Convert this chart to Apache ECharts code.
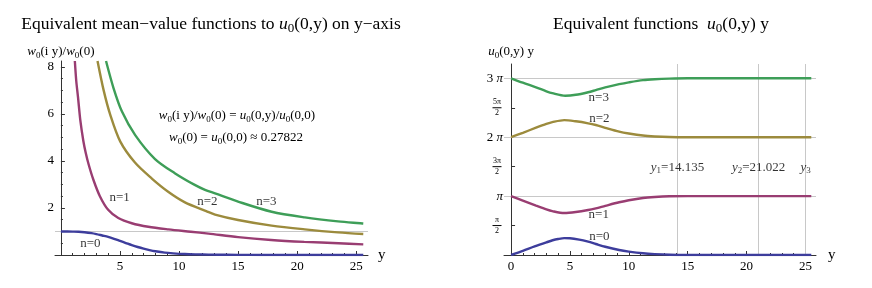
<!DOCTYPE html>
<html><head><meta charset="utf-8">
<script src="https://cdn.jsdelivr.net/npm/echarts@6/dist/echarts.min.js"></script>
<style>html,body{margin:0;padding:0;background:#fff}#c{width:872px;height:288px}</style>
</head><body><div id="c"></div>
<script>
// ---------- data: left chart  w0(i y)/w0(0) ----------
const leftN0 = [[0,1.0],[1,0.995],[1.5,0.99],[2,0.97],[2.6,0.93],[3,0.89],[3.5,0.83],[4,0.77],[4.5,0.69],[5,0.6],[5.5,0.51],[6,0.42],[6.5,0.34],[7,0.27],[7.5,0.21],[8,0.16],[8.8,0.1],[9.5,0.07],[10.5,0.04],[11.5,0.025],[12.5,0.015],[14,0.008],[16,0.004],[18,0.002],[20,0.001],[25.6,0]];
const leftN1 = [[1.18,8.25],[1.3,7.4],[1.45,6.7],[1.65,5.7],[1.9,4.85],[2.1,4.35],[2.35,3.85],[2.75,3.2],[3.3,2.5],[4.0,1.92],[4.86,1.57],[6,1.35],[7.4,1.2],[9.1,1.09],[11,0.99],[12.5,0.91],[15,0.76],[17.8,0.64],[20.6,0.56],[23.5,0.5],[25.6,0.45]];
const leftN2 = [[3.1,8.25],[3.62,7.0],[4.18,5.96],[5.03,4.82],[6.27,3.93],[7.7,3.25],[9.08,2.69],[10.5,2.24],[12.3,1.87],[13.05,1.72],[15,1.49],[17.84,1.25],[20.65,1.09],[23.46,0.96],[25.6,0.89]];
const leftN3 = [[3.82,8.25],[4.46,7.09],[5.17,6.1],[6.29,5.1],[7.97,4.08],[9.64,3.48],[11.33,2.98],[12.2,2.77],[13.05,2.62],[15,2.27],[17.84,1.84],[20.65,1.6],[23.46,1.43],[25.6,1.34]];
// ---------- data: right chart  u0(0,y) y  (in units of pi) ----------
const rightN0 = [[0,0],[1,0.07],[2,0.145],[3,0.215],[3.53,0.25],[4,0.272],[4.52,0.287],[5,0.285],[5.79,0.262],[6.55,0.226],[7.2,0.187],[8,0.14],[9.18,0.085],[10,0.058],[11.2,0.029],[12.2,0.015],[13.5,0.005],[15,0.001],[17,0],[25.5,0]];
const rightN1 = [[0,1],[1,0.925],[2.12,0.84],[3,0.775],[3.5,0.745],[4.52,0.713],[5.5,0.73],[6.55,0.764],[7.2,0.793],[8,0.835],[9.18,0.895],[10,0.93],[11.2,0.968],[12.2,0.985],[13.45,0.997],[15,1.0],[17,1.0],[25.5,1.0]];
const rightN2 = [[0,2],[1,2.075],[2.12,2.161],[3,2.225],[3.5,2.255],[4.52,2.29],[5.5,2.27],[6.55,2.236],[7.2,2.207],[8,2.16],[9.18,2.095],[10,2.063],[11.2,2.028],[12.2,2.013],[13.45,2.003],[15,2.0],[17,2.0],[25.5,2.0]];
const rightN3 = [[0,3],[1,2.925],[2.12,2.847],[3,2.78],[3.5,2.748],[4.6,2.705],[5.5,2.72],[6.55,2.764],[7.2,2.8],[8,2.845],[9.18,2.9],[10,2.932],[11.2,2.97],[12.2,2.985],[13.45,2.995],[15,3.0],[17,3.0],[25.5,3.0]];
const zetaZeros = [14.135, 21.022, 25.011];
const zeroLabels = ['{i|y}{s|1}=14.135', '{i|y}{s|2}=21.022', '{i|y}{s|3}'];
const seriesNames = ['n=0', 'n=1', 'n=2', 'n=3'];
// ---------- ticks ----------
const leftXMajor = [5, 10, 15, 20, 25];
const leftXMinor = [1,2,3,4,6,7,8,9,11,12,13,14,16,17,18,19,21,22,23,24];
const leftYMajor = [2, 4, 6, 8];
const leftYMinor = [0.5,1,1.5,2.5,3,3.5,4.5,5,5.5,6.5,7,7.5];
const rightXMajor = [0, 5, 10, 15, 20, 25];
const rightXMinor = [1,2,3,4,6,7,8,9,11,12,13,14,16,17,18,19,21,22,23,24];
const rightYTicks = [0.5, 1, 1.5, 2, 2.5, 3];
const rightYLabels = ['{fn|π}\n{bar| }\n{fd|2}', '{pi|π}', '{fn|3π}\n{bar| }\n{fd|2}', '2 {pi|π}', '{fn|5π}\n{bar| }\n{fd|2}', '3 {pi|π}'];

// ---------- styling ----------
const FONT = '"Liberation Serif","Times New Roman",serif';
const INK = '#000';
const AX = '#333';
const GRIDC = '#c8c8c8';
const COLORS = ['#3D3D9C', '#993D72', '#9C8B3D', '#3E9E58'];
function rich(size) {
  const lh = Math.round(size * 1.25);
  const ss = Math.round(size * 0.72);
  return {
    i: {fontFamily: FONT, fontSize: size, fontStyle: 'italic', lineHeight: lh, color: INK},
    s: {fontFamily: FONT, fontSize: ss, lineHeight: ss, verticalAlign: 'bottom', color: INK}
  };
}
function textEl(x, y, text, size) {
  return {type: 'text', x, y, silent: true, style: {text, fontFamily: FONT, fontSize: size, lineHeight: Math.round(size * 1.25), fill: INK, align: 'center', verticalAlign: 'middle', rich: rich(size)}};
}
function xAxisMajor(grid, min, max, ticks, gap) {
  return {type: 'value', gridIndex: grid, min, max, position: 'bottom',
    axisLine: {show: true, onZero: false, lineStyle: {color: AX, width: 1}},
    axisTick: {show: true, inside: true, length: 4, customValues: ticks, lineStyle: {color: AX}},
    axisLabel: {show: true, customValues: ticks, margin: 5, color: INK, fontFamily: FONT, fontSize: 13},
    splitLine: {show: false}, minorTick: {show: false},
    name: 'y', nameLocation: 'end', nameGap: gap,
    nameTextStyle: {fontFamily: FONT, fontSize: 15, color: INK, verticalAlign: 'middle'}};
}
function xAxisMinor(grid, min, max, ticks) {
  return {type: 'value', gridIndex: grid, min, max, position: 'bottom',
    axisLine: {show: false, onZero: false},
    axisTick: {show: true, inside: true, length: 2, customValues: ticks, lineStyle: {color: AX}},
    axisLabel: {show: false}, splitLine: {show: false}};
}
function yAxisMajor(grid, min, max, ticks, onIdx, name, gap, labelOpt) {
  return {type: 'value', gridIndex: grid, min, max, position: 'left',
    axisLine: {show: true, onZero: true, onZeroAxisIndex: onIdx, lineStyle: {color: AX, width: 1}},
    axisTick: {show: true, inside: true, length: 4, customValues: ticks, lineStyle: {color: AX}},
    axisLabel: Object.assign({show: true, customValues: ticks, margin: 1, color: INK, fontFamily: FONT, fontSize: 13}, labelOpt || {}),
    splitLine: {show: false},
    name, nameLocation: 'end', nameGap: gap,
    nameTextStyle: {fontFamily: FONT, fontSize: 13, color: INK, lineHeight: 16, align: 'center', rich: rich(13)}};
}
function yAxisMinor(grid, min, max, ticks, onIdx) {
  return {type: 'value', gridIndex: grid, min, max, position: 'left',
    axisLine: {show: false, onZero: true, onZeroAxisIndex: onIdx},
    axisTick: {show: true, inside: true, length: 2, customValues: ticks, lineStyle: {color: AX}},
    axisLabel: {show: false}, splitLine: {show: false}};
}
function curve(name, data, color, xi, yi) {
  return {type: 'line', name, data, xAxisIndex: xi, yAxisIndex: yi, showSymbol: false, symbol: 'none',
    smooth: 0.3, clip: true, silent: true, z: 3,
    lineStyle: {color, width: 2.4}, itemStyle: {color}};
}
function labelSeries(xi, yi, items, extraMark) {
  const s = {type: 'scatter', xAxisIndex: xi, yAxisIndex: yi, symbolSize: 0, silent: true, z: 1,
    itemStyle: {color: 'transparent'},
    data: items.map(it => ({name: it[0], value: [it[1], it[2]]})),
    label: {show: true, position: 'inside', formatter: p => p.name, color: INK, fontFamily: FONT, fontSize: 13, lineHeight: 16, rich: rich(13)}};
  if (extraMark) s.markLine = {silent: true, z: 1, symbol: ['none', 'none'], label: {show: false}, animation: false,
    lineStyle: {color: GRIDC, width: 1, type: 'solid'}, data: extraMark};
  return s;
}

// label anchor points (data coordinates)
const leftLabelPos = [[2.49, 0.5], [4.97, 2.46], [12.4, 2.28], [17.4, 2.28]];
const rightLabelPos = [[7.5, 0.311], [7.45, 0.679], [7.5, 2.32], [7.45, 2.671]];
const zeroLabelY = 1.489;

const leftAllData = [leftN0, leftN1, leftN2, leftN3];
const rightAllData = [rightN0, rightN1, rightN2, rightN3];

const fracRich = {
  pi: {fontFamily: FONT, fontSize: 13, fontStyle: 'italic', color: INK},
  fn: {fontFamily: FONT, fontSize: 8, lineHeight: 9, width: 12, align: 'center', color: INK},
  fd: {fontFamily: FONT, fontSize: 8, lineHeight: 9, width: 12, align: 'center', color: INK},
  bar: {fontSize: 1, width: 9, height: 1, lineHeight: 2, backgroundColor: '#000', align: 'center'}
};

const option = {
  animation: false,
  backgroundColor: '#fff',
  grid: [
    {left: 55, top: 61, width: 313, height: 194, containLabel: false},
    {left: 504, top: 64, width: 312, height: 191, containLabel: false}
  ],
  xAxis: [
    xAxisMajor(0, -0.5, 26, leftXMajor, 10),
    xAxisMinor(0, -0.5, 26, leftXMinor),
    xAxisMajor(1, -0.6, 25.9, rightXMajor, 12),
    xAxisMinor(1, -0.6, 25.9, rightXMinor)
  ],
  yAxis: [
    yAxisMajor(0, 0, 8.25, leftYMajor, 0, '{i|w}{s|0}(i y)/{i|w}{s|0}(0)', 1),
    yAxisMinor(0, 0, 8.25, leftYMinor, 0),
    yAxisMajor(1, 0, 3.243, rightYTicks, 2, '{i|u}{s|0}(0,y) y', 4, {
      formatter: v => { const k = rightYTicks.indexOf(v); return k >= 0 ? rightYLabels[k] : ''; },
      rich: fracRich
    }),
    yAxisMinor(1, 0, 3.243, [], 2)
  ],
  graphic: [
    textEl(211, 24, 'Equivalent mean−value functions to {i|u}{s|0}(0,y) on y−axis', 17.5),
    textEl(661, 24, 'Equivalent functions  {i|u}{s|0}(0,y) y', 17.5),
    textEl(237, 116, '{i|w}{s|0}(i y)/{i|w}{s|0}(0) = {i|u}{s|0}(0,y)/{i|u}{s|0}(0,0)', 13),
    textEl(236, 138, '{i|w}{s|0}(0) = {i|u}{s|0}(0,0) ≈ 0.27822', 13)
  ],
  series: [
    labelSeries(0, 0, seriesNames.map((n, k) => [n, leftLabelPos[k][0], leftLabelPos[k][1]]), [{yAxis: 1}]),
    labelSeries(2, 2, seriesNames.map((n, k) => [n, rightLabelPos[k][0], rightLabelPos[k][1]])
      .concat(zetaZeros.map((z, k) => [zeroLabels[k], z, zeroLabelY])),
      [{yAxis: 1}, {yAxis: 2}, {yAxis: 3}].concat(zetaZeros.map(z => ({xAxis: z})))),
    ...leftAllData.map((d, k) => curve(seriesNames[k], d, COLORS[k], 0, 0)),
    ...rightAllData.map((d, k) => curve(seriesNames[k], d, COLORS[k], 2, 2))
  ]
};
const chart = echarts.init(document.getElementById('c'), null, {renderer: 'canvas'});
chart.setOption(option);
</script>
</body></html>
